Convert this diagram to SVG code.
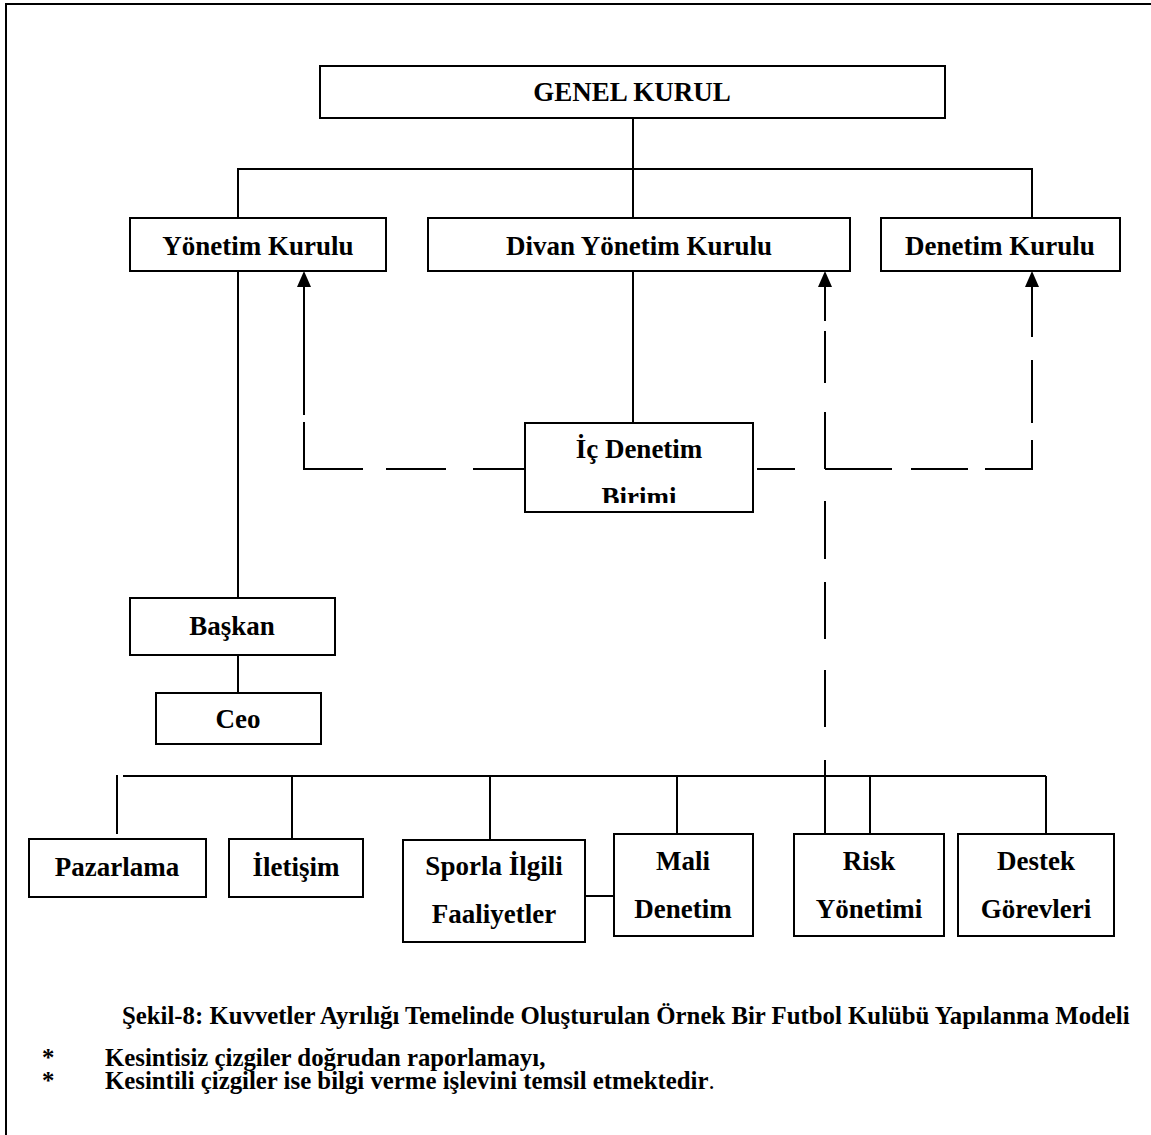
<svg xmlns="http://www.w3.org/2000/svg" width="1151" height="1135" viewBox="0 0 1151 1135">
  <defs>
    <style>
      .box { fill: #fff; stroke: #000; stroke-width: 2; }
      .ln { fill: none; stroke: #000; stroke-width: 2; }
      .lbl { font-family: "Liberation Serif", "Times New Roman", serif; font-weight: bold; font-size: 27px; fill: #000; text-anchor: middle; }
      .cap { font-family: "Liberation Serif", "Times New Roman", serif; font-weight: bold; font-size: 24.8px; fill: #000; }
      .note { font-family: "Liberation Serif", "Times New Roman", serif; font-weight: bold; font-size: 24.8px; fill: #000; }
      .arrow { fill: #000; stroke: none; }
    </style>
    <clipPath id="icClip">
      <rect x="526" y="424" width="226" height="79"/>
    </clipPath>
  </defs>

  <rect x="0" y="0" width="1151" height="1135" fill="#fff"/>

  <!-- frame (left and top edges) -->
  <path class="ln" d="M6,1135 V4 H1151"/>

  <!-- connectors -->
  <g id="connectors">
    <!-- solid reporting lines -->
    <path class="ln" d="M633,118 V218"/>
    <path class="ln" d="M238,218 V169 H1032 V218"/>
    <path class="ln" d="M238,271 V598"/>
    <path class="ln" d="M238,655 V693"/>
    <path class="ln" d="M633,271 V423"/>
    <path class="ln" d="M123,776 H1046"/>
    <path class="ln" d="M117,775 V834"/>
    <path class="ln" d="M292,776 V839"/>
    <path class="ln" d="M490,776 V840"/>
    <path class="ln" d="M677,776 V834"/>
    <path class="ln" d="M870,776 V834"/>
    <path class="ln" d="M1046,776 V834"/>
    <path class="ln" d="M585,896 H614"/>

    <!-- dashed information lines: left branch to Yönetim Kurulu -->
    <path class="ln" d="M304,284 V415 M304,422 V469 H363 M386,469 H446 M473,469 H525"/>
    <!-- right branch from İç Denetim to Denetim Kurulu -->
    <path class="ln" d="M757,469 H795 M825,469 H892 M911,469 H968 M985,469 H1032 V440 M1032,423 V360 M1032,337 V284"/>
    <!-- Risk Yönetimi to Divan Yönetim Kurulu -->
    <path class="ln" d="M825,834 V760 M825,727 V670 M825,639 V582 M825,559 V501 M825,469 V412 M825,383 V331 M825,321 V284"/>

    <!-- arrowheads -->
    <polygon class="arrow" points="304,271 297,287 311,287"/>
    <polygon class="arrow" points="825,271 818,287 832,287"/>
    <polygon class="arrow" points="1032,271 1025,287 1039,287"/>
  </g>

  <!-- nodes -->
  <g id="genel-kurul">
    <rect class="box" x="320" y="66" width="625" height="52"/>
    <text class="lbl" x="632" y="101">GENEL KURUL</text>
  </g>
  <g id="yonetim-kurulu">
    <rect class="box" x="130" y="218" width="256" height="53"/>
    <text class="lbl" x="258" y="255">Yönetim Kurulu</text>
  </g>
  <g id="divan-yonetim-kurulu">
    <rect class="box" x="428" y="218" width="422" height="53"/>
    <text class="lbl" x="639" y="255">Divan Yönetim Kurulu</text>
  </g>
  <g id="denetim-kurulu">
    <rect class="box" x="881" y="218" width="239" height="53"/>
    <text class="lbl" x="1000" y="255">Denetim Kurulu</text>
  </g>
  <g id="ic-denetim-birimi">
    <rect class="box" x="525" y="423" width="228" height="89"/>
    <g clip-path="url(#icClip)">
      <text class="lbl" x="639" y="458">İç Denetim</text>
      <text class="lbl" x="639" y="506">Birimi</text>
    </g>
  </g>
  <g id="baskan">
    <rect class="box" x="130" y="598" width="205" height="57"/>
    <text class="lbl" x="232" y="635">Başkan</text>
  </g>
  <g id="ceo">
    <rect class="box" x="156" y="693" width="165" height="51"/>
    <text class="lbl" x="238" y="728">Ceo</text>
  </g>
  <g id="pazarlama">
    <rect class="box" x="29" y="839" width="177" height="58"/>
    <text class="lbl" x="117" y="876">Pazarlama</text>
  </g>
  <g id="iletisim">
    <rect class="box" x="229" y="839" width="134" height="58"/>
    <text class="lbl" x="296" y="876">İletişim</text>
  </g>
  <g id="sporla-ilgili-faaliyetler">
    <rect class="box" x="403" y="840" width="182" height="102"/>
    <text class="lbl" x="494" y="875">Sporla İlgili</text>
    <text class="lbl" x="494" y="923">Faaliyetler</text>
  </g>
  <g id="mali-denetim">
    <rect class="box" x="614" y="834" width="139" height="102"/>
    <text class="lbl" x="683" y="870">Mali</text>
    <text class="lbl" x="683" y="918">Denetim</text>
  </g>
  <g id="risk-yonetimi">
    <rect class="box" x="794" y="834" width="150" height="102"/>
    <text class="lbl" x="869" y="870">Risk</text>
    <text class="lbl" x="869" y="918">Yönetimi</text>
  </g>
  <g id="destek-gorevleri">
    <rect class="box" x="958" y="834" width="156" height="102"/>
    <text class="lbl" x="1036" y="870">Destek</text>
    <text class="lbl" x="1036" y="918">Görevleri</text>
  </g>

  <!-- caption and legend -->
  <text class="cap" x="122" y="1024">Şekil-8: Kuvvetler Ayrılığı Temelinde Oluşturulan Örnek Bir Futbol Kulübü Yapılanma Modeli</text>
  <text class="note" x="42" y="1066">*</text>
  <text class="note" x="105" y="1066">Kesintisiz çizgiler doğrudan raporlamayı,</text>
  <text class="note" x="42" y="1089">*</text>
  <text class="note" x="105" y="1089">Kesintili çizgiler ise bilgi verme işlevini temsil etmektedir<tspan font-weight="normal">.</tspan></text>
</svg>
